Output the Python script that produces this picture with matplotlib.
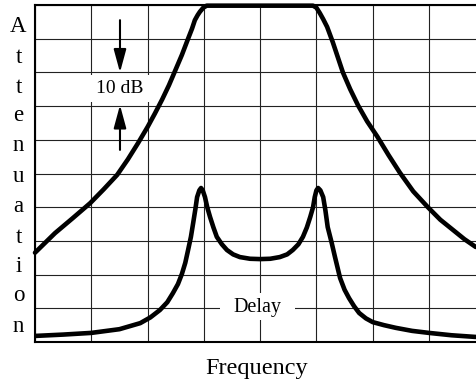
import matplotlib
matplotlib.use("Agg")
from matplotlib import pyplot as plt
from matplotlib.patches import Rectangle

# attenuation curve (x in grid columns, y in grid rows)
att_x = [0.0, 0.355, 0.66, 0.98, 1.22, 1.46, 1.65, 1.83, 2.0, 2.13, 2.26, 2.38, 2.49,
         2.61, 2.72, 2.79, 2.84, 2.89, 2.93, 2.99, 3.05, 4.0, 4.94, 5.0, 5.06, 5.12,
         5.19, 5.29, 5.38, 5.47, 5.6, 5.74, 5.9, 6.08, 6.28, 6.48, 6.72, 6.98, 7.2,
         7.43, 7.63, 7.83]
att_y = [2.65, 3.23, 3.66, 4.12, 4.53, 4.96, 5.42, 5.9, 6.38, 6.78, 7.2, 7.62, 8.05,
         8.52, 9.0, 9.3, 9.55, 9.7, 9.8, 9.92, 9.98, 9.98, 9.98, 9.92, 9.76, 9.58,
         9.35, 8.9, 8.45, 8.0, 7.5, 7.02, 6.55, 6.1, 5.55, 5.03, 4.47, 4.0, 3.63,
         3.32, 3.05, 2.82]

# delay curve
dly_x = [0.0, 0.5, 1.0, 1.5, 1.87, 2.05, 2.22, 2.35, 2.45, 2.54, 2.61, 2.67, 2.72, 2.77,
         2.81, 2.85, 2.88, 2.92, 2.95, 2.98, 3.02, 3.06, 3.11, 3.17, 3.23, 3.32, 3.41,
         3.52, 3.64, 3.82, 4.0, 4.18, 4.35, 4.48, 4.58, 4.68, 4.76, 4.83, 4.89, 4.94,
         4.97, 5.0, 5.03, 5.07, 5.12, 5.16, 5.2, 5.27, 5.33, 5.42, 5.5, 5.58, 5.67,
         5.76, 5.88, 6.0, 6.2, 6.41, 6.7, 7.0, 7.4, 7.83]
dly_y = [0.18, 0.22, 0.27, 0.38, 0.56, 0.73, 0.95, 1.18, 1.45, 1.72, 2.02, 2.35, 2.73, 3.12,
         3.53, 3.95, 4.3, 4.5, 4.57, 4.5, 4.3, 4.0, 3.71, 3.4, 3.12, 2.9, 2.73,
         2.6, 2.52, 2.47, 2.46, 2.47, 2.52, 2.6, 2.73, 2.9, 3.12, 3.4, 3.71, 4.0,
         4.3, 4.5, 4.57, 4.5, 4.3, 3.9, 3.41, 2.95, 2.52, 1.9, 1.55, 1.3, 1.06,
         0.86, 0.7, 0.59, 0.5, 0.42, 0.33, 0.27, 0.2, 0.15]

letters = list("Attenuation")
letter_base = [32, 63, 93, 121, 151, 182, 212, 243, 272, 301, 332]

serif = "Liberation Serif"

fig = plt.figure(figsize=(4.76, 3.80), dpi=100)
ax = fig.add_axes([35 / 476, 38 / 380, 441 / 476, 337 / 380])

ax.set_xlim(0, 7.835)
ax.set_ylim(0, 10)
ax.set_xticks(range(0, 8))
ax.set_yticks(range(0, 11))
ax.tick_params(length=0, labelbottom=False, labelleft=False)
ax.set_axisbelow(True)
ax.grid(True, color="#222222", linewidth=0.8)
ax.spines["right"].set_visible(False)
for s in ["left", "top", "bottom"]:
    ax.spines[s].set_linewidth(1.5)

ax.plot(att_x, att_y, color="black", linewidth=3.3, solid_capstyle="round",
        solid_joinstyle="round", clip_on=False, zorder=4)
ax.plot(dly_x, dly_y, color="black", linewidth=3.3, solid_capstyle="round",
        solid_joinstyle="round", zorder=4)

# white boxes behind the labels
ax.add_patch(Rectangle((0.97, 7.12), 1.07, 0.8, facecolor="white", edgecolor="none", zorder=2))
ax.add_patch(Rectangle((3.29, 0.65), 1.33, 0.8, facecolor="white", edgecolor="none", zorder=2))

ax.text(1.51, 7.52, "10 dB", ha="center", va="center", fontsize=14, family=serif, zorder=5)
ax.text(3.955, 1.03, "Delay", ha="center", va="center", fontsize=14.5, family=serif, zorder=5)

arrow = dict(arrowstyle="-|>,head_length=1.4,head_width=0.38", color="black",
             linewidth=1.5, shrinkA=0, shrinkB=0, mutation_scale=10)
ax.annotate("", xy=(1.51, 8.0), xytext=(1.51, 9.55), arrowprops=arrow, zorder=5)
ax.annotate("", xy=(1.51, 7.03), xytext=(1.51, 5.70), arrowprops=arrow, zorder=5)

for ch, yb in zip(letters, letter_base):
    fig.text(18.5 / 476, 1 - yb / 380, ch, ha="center", va="baseline",
             fontsize=16.5, family=serif)

fig.text(257 / 476, 1 - 374 / 380, "Frequency", ha="center", va="baseline",
         fontsize=17.5, family=serif)

fig.savefig("out.png", dpi=100)
